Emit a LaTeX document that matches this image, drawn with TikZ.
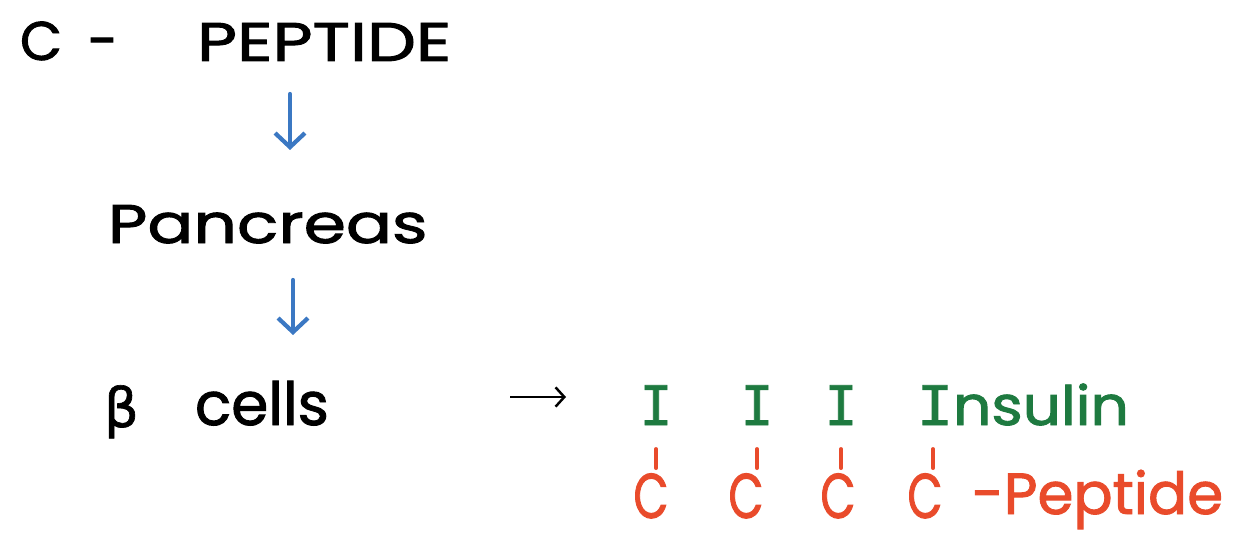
\documentclass[tikz,border=0pt]{standalone}
\usepackage{fontspec}
\setmainfont{Poppins}[FakeBold=1.6]
\newfontfamily\grk{DejaVu Sans}[FakeBold=1.2]
\newfontfamily\serifI{DejaVu Sans Mono}[FakeBold=1.4]
\usetikzlibrary{arrows.meta,calc}
\definecolor{hblue}{HTML}{3B78C3}
\definecolor{hgreen}{HTML}{1E7A40}
\definecolor{hred}{HTML}{E94B2B}
\begin{document}
\begin{tikzpicture}[x=0.02cm,y=-0.02cm,
  every node/.style={inner sep=0pt,outer sep=0pt},
  txt/.style={anchor=base west,font=\fontsize{31}{36}\selectfont},
  gI/.style={anchor=base,text=hgreen,font=\serifI\fontsize{31}{36}\selectfont},
  gtxt/.style={anchor=base west,text=hgreen,xscale=1.1,font=\fontsize{31}{36}\selectfont},
  rc/.style={anchor=base,text=hred,xscale=0.72,font=\fontsize{36}{40}\selectfont},
  rtxt/.style={anchor=base west,text=hred,font=\fontsize{33}{40}\selectfont},
  barrow/.style={draw=hblue,line width=2.4pt,line cap=round,-{Straight Barb[length=8pt,width=17pt,line width=2.4pt]}},
  karrow/.style={draw=black,line width=1.4pt,-{Straight Barb[length=5pt,width=11pt,line width=1.4pt]}},
  rbar/.style={draw=hred,line width=2.2pt,line cap=round}]
\useasboundingbox (0,0) rectangle (1241,544);
% left column
\node[txt] (c1) at (20,60) {C};
\node[txt] (dsh) at (88,60) {-};
\node[txt,xscale=1.27] (pep) at (197,61) {PEPTIDE};
\node[txt,xscale=1.25] (pan) at (108,243) {Pancreas};
\node[txt,font=\grk\fontsize{31}{36}\selectfont] (beta) at (104,427) {β};
\node[txt,font=\fontsize{34}{40}\selectfont] (cells) at (195,425) {cells};
% blue arrows
\coordinate (a1s) at (290,94);
\coordinate (a1e) at (290,150);
\coordinate (a2s) at (293,280);
\coordinate (a2e) at (293,335);
\draw[barrow] (a1s) -- (a1e);
\draw[barrow] (a2s) -- (a2e);
% black arrow
\coordinate (k1) at (510,397);
\coordinate (k2) at (566,397);
\draw[karrow] (k1) -- (k2);
% insulin row
\node[gI] (i1) at (656,425) {I};
\node[gI] (i2) at (757,425) {I};
\node[gI] (i3) at (841,425) {I};
\node[gtxt] (ins) at (917,425) {{\serifI I}nsulin};
\coordinate (i4) at (933,425);
% c-peptide row
\node[rc] (r1) at (651,518) {C};
\node[rc] (r2) at (746,518) {C};
\node[rc] (r3) at (838,518) {C};
\node[rc] (r4) at (925,518) {C};
\node[rtxt] (rp) at (972,514) {-Peptide};
% red bars
\draw[rbar,shorten >=3pt] (i1.south) ++(0,24) -- (i1.south |- r1.north);
\draw[rbar,shorten >=3pt] (i2.south) ++(0,24) -- (i2.south |- r2.north);
\draw[rbar,shorten >=3pt] (i3.south) ++(0,24) -- (i3.south |- r3.north);
\draw[rbar,shorten >=3pt] (i4) ++(0,24) -- (i4 |- r4.north);
\end{tikzpicture}
\end{document}
